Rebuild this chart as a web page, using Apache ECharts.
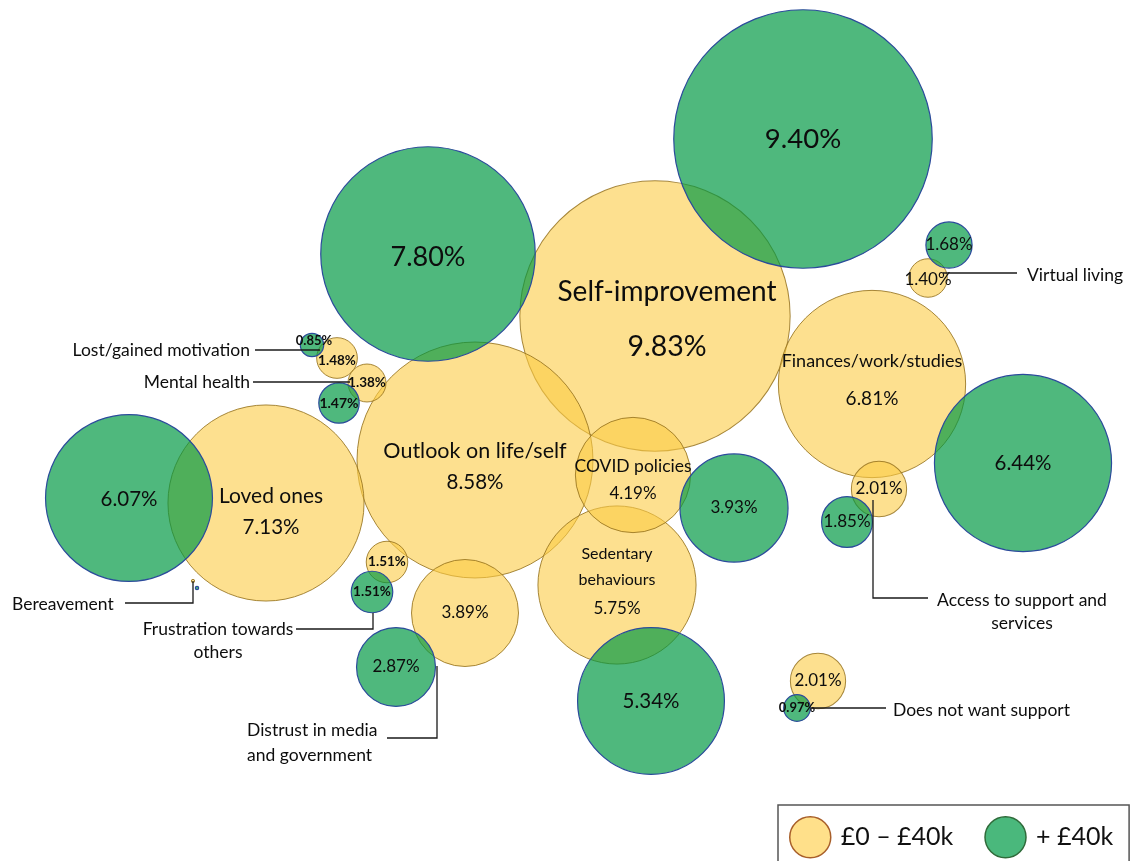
<!DOCTYPE html>
<html><head><meta charset="utf-8">
<script src="https://cdn.jsdelivr.net/npm/echarts@6/dist/echarts.min.js"></script>
<style>html,body{margin:0;padding:0;background:#fff}#c{width:1131px;height:861px}</style>
</head><body><div id="c"></div>
<script>
// ---- data ----
const themes = ['Self-improvement','Outlook on life/self','Loved ones','Finances/work/studies','Sedentary behaviours','COVID policies','Distrust in media and government','Access to support and services','Does not want support','Frustration towards others','Lost/gained motivation','Virtual living','Mental health','Bereavement'];
const lowIncome  = [9.83, 8.58, 7.13, 6.81, 5.75, 4.19, 3.89, 2.01, 2.01, 1.51, 1.48, 1.40, 1.38, 0.12];
const highIncome = [9.40, 7.80, 6.07, 6.44, 5.34, 3.93, 2.87, 1.85, 0.97, 1.51, 0.85, 1.68, 1.47, 0.12];
const seriesNames = ['£0 – £40k', '+ £40k'];
// bubble centres on the 1131 x 861 layout plane
const lowX  = [655, 475, 266, 872, 617, 633, 465, 879, 818, 387, 337, 928, 367, 193];
const lowY  = [316, 460, 503, 384, 585, 475, 613, 489, 681, 562, 358, 278, 383, 581];
const highX = [803, 428, 129, 1023, 651, 734, 396, 847, 797, 372, 312, 949, 339, 197];
const highY = [139, 254, 498, 463, 701, 508, 667, 522, 708, 592, 345, 245, 403, 588];
// callout texts
const annotText = ['Lost/gained motivation','Mental health','Bereavement','Frustration towards\nothers','Distrust in media\nand government','Access to support and\nservices','Does not want support','Virtual living'];
const annotX = [250, 250, 12, 218, 247, 1022, 893, 1027];
const annotY = [350, 382, 604, 641, 743, 612, 710, 275];
const annotAlign = ['right','right','left','center','left','center','left','left'];
const leaders = [
  [[255,350],[320,350]],
  [[253,382],[350,382]],
  [[125,603],[193,603],[193,581]],
  [[296,629],[373,629],[373,613]],
  [[387,738],[437,738],[437,666]],
  [[928,598],[873,598],[873,500]],
  [[886,708],[812,708]],
  [[1017,273],[943,273]]
];

// ---- styles ----
const FONT = 'Lato';
const TXT = '#0d0d0d';
const DIAM = 27.5; // px diameter per percentage point
const lowStyle = [
  {nf:28, vf:28.5, lh:55, dy:3, dx:12},
  {nf:21.5, vf:20.5, lh:31, dy:7},
  {nf:21, vf:20.5, lh:31, dy:9, dx:5},
  {nf:18, vf:19, lh:38, dy:-4},
  {nf:16, vf:17, lh:26, vlh:32, dy:-2, wrap:true},
  {nf:17.5, vf:17, lh:27, dy:5},
  {vf:17},
  {vf:17},
  {vf:17},
  {vf:13.5, bold:true},
  {vf:13.5, bold:true, dy:3},
  {vf:17, dy:2},
  {vf:13.5, bold:true},
  null
];
const highStyle = [
  {vf:27.5},
  {vf:27, dy:3},
  {vf:20.5, dy:1},
  {vf:20.5},
  {vf:20.5},
  {vf:17},
  {vf:17},
  {vf:17},
  {vf:13, bold:true},
  {vf:13.5, bold:true},
  {vf:13, bold:true, dy:-4, dx:2},
  {vf:17},
  {vf:14, bold:true},
  null
];

function bubbleData(vals, xs, ys, styles) {
  return vals.map((v, i) => {
    const s = styles[i];
    const item = { name: themes[i], value: [xs[i], ys[i], v] };
    if (!s) { item.label = { show: false }; return item; }
    const valTxt = v.toFixed(2) + '%';
    const rich = {
      n: { fontFamily: FONT, fontSize: s.nf || 12, lineHeight: s.lh || 20, color: TXT },
      v: { fontFamily: FONT, fontSize: s.vf, lineHeight: s.vlh || s.lh || s.vf * 1.2, color: TXT, fontWeight: s.bold ? 'bold' : 'normal' }
    };
    let fmt;
    if (s.nf) {
      const nm = s.wrap ? themes[i].split(' ').map(w => '{n|' + w + '}').join('\n') : '{n|' + themes[i] + '}';
      fmt = nm + '\n{v|' + valTxt + '}';
    } else {
      fmt = '{v|' + valTxt + '}';
    }
    item.label = { show: true, position: 'inside', formatter: fmt, rich: rich, offset: [s.dx || 0, s.dy || 0] };
    return item;
  });
}

const chart = echarts.init(document.getElementById('c'));
chart.setOption({
  animation: false,
  backgroundColor: '#ffffff',
  grid: { left: 0, right: 0, top: 0, bottom: 0 },
  xAxis: { type: 'value', min: 0, max: 1131, show: false },
  yAxis: { type: 'value', min: 0, max: 861, inverse: true, show: false },
  legend: {
    left: 778, top: 805,
    padding: [11, 16, 11, 11],
    itemWidth: 41, itemHeight: 41, itemGap: 31,
    icon: 'circle',
    borderColor: '#555', borderWidth: 1.5,
    selectedMode: false,
    textStyle: { fontFamily: FONT, fontSize: 25, color: '#111', padding: [0, 0, 0, 5] },
    data: [
      { name: seriesNames[0], itemStyle: { color: '#FFE08A', borderColor: '#A85F2A', borderWidth: 1.5, opacity: 1 } },
      { name: seriesNames[1], itemStyle: { color: '#4AB87C', borderColor: '#2F6B3A', borderWidth: 1.5, opacity: 1 } }
    ]
  },
  series: [
    {
      name: seriesNames[0], type: 'scatter', z: 2,
      symbolSize: (val) => val[2] * DIAM,
      itemStyle: { color: 'rgba(252,203,68,0.6)', borderColor: 'rgba(150,115,30,0.85)', borderWidth: 1, opacity: 1 },
      emphasis: { disabled: true },
      data: bubbleData(lowIncome, lowX, lowY, lowStyle)
    },
    {
      name: seriesNames[1], type: 'scatter', z: 3,
      symbolSize: (val) => val[2] * DIAM,
      itemStyle: { color: 'rgba(0,152,66,0.69)', borderColor: '#2B4B9B', borderWidth: 1.2, opacity: 1 },
      emphasis: { disabled: true },
      data: bubbleData(highIncome, highX, highY, highStyle)
    },
    {
      type: 'lines', coordinateSystem: 'cartesian2d', polyline: true, z: 5, silent: true,
      lineStyle: { color: '#1a1a1a', width: 1.3, opacity: 1 },
      data: leaders.map(c => ({ coords: c }))
    },
    {
      type: 'scatter', symbolSize: 0, z: 6, silent: true,
      itemStyle: { opacity: 1 },
      label: { show: true, position: [0, 0], fontFamily: FONT, fontSize: 17.5, lineHeight: 23, color: TXT, verticalAlign: 'middle' },
      data: annotText.map((t, i) => ({
        value: [annotX[i], annotY[i]],
        label: { formatter: t, align: annotAlign[i], lineHeight: i === 4 ? 25 : 23 }
      }))
    }
  ]
});
</script>
</body></html>
